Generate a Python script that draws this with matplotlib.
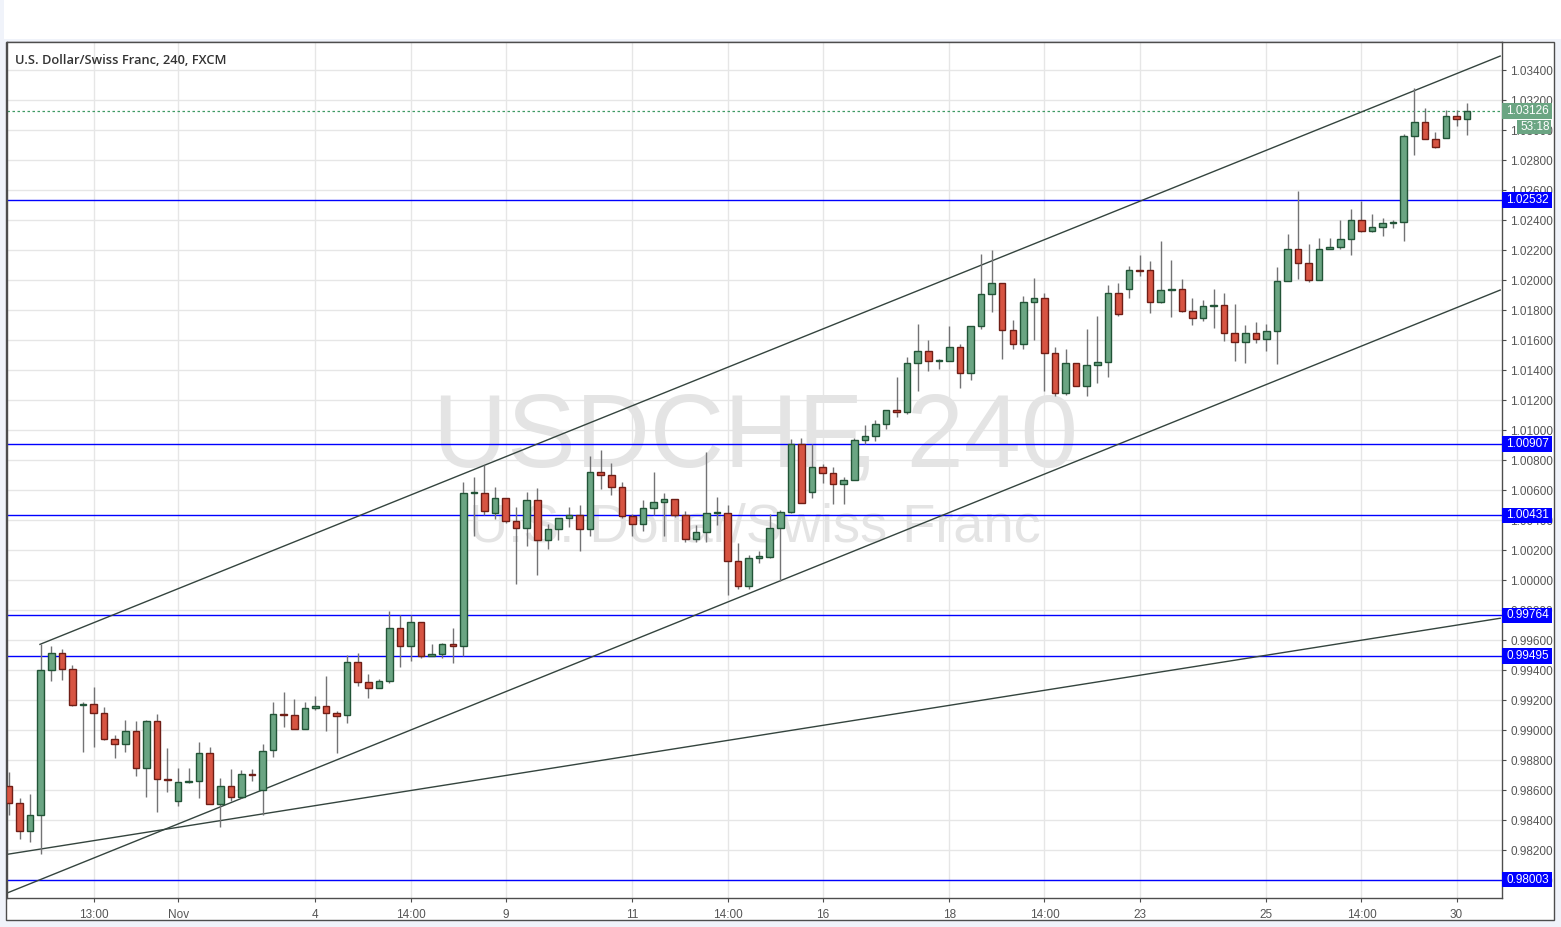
import numpy as np
import matplotlib
matplotlib.use("Agg")
import matplotlib.pyplot as plt
from matplotlib.patches import Rectangle
from matplotlib.ticker import MultipleLocator, FormatStrFormatter
import matplotlib.transforms as mtransforms

# USD/CHF 4h candles (open, high, low, close)
opens = [0.98627, 0.98511, 0.98324, 0.98431, 0.99398, 0.99511, 0.99404, 0.99167, 0.99173, 0.99111,
         0.98938, 0.98904, 0.98991, 0.98744, 0.99060, 0.98667, 0.98524, 0.98652, 0.98658, 0.98844,
         0.98507, 0.98624, 0.98551, 0.98704, 0.98600, 0.98864, 0.99100, 0.99098, 0.99004, 0.99144,
         0.99158, 0.99111, 0.99098, 0.99451, 0.99318, 0.99278, 0.99324, 0.99678, 0.99562, 0.99718,
         0.99491, 0.99504, 0.99571, 0.99558, 1.00578, 1.00578, 1.00444, 1.00544, 1.00391, 1.00344,
         1.00531, 1.00264, 1.00338, 1.00411, 1.00431, 1.00338, 1.00718, 1.00698, 1.00618, 1.00424,
         1.00371, 1.00478, 1.00518, 1.00538, 1.00431, 1.00271, 1.00318, 1.00446, 1.00444, 1.00124,
         0.99958, 1.00144, 1.00156, 1.00344, 1.00451, 1.00904, 1.00584, 1.00751, 1.00711, 1.00638,
         1.00664, 1.00931, 1.00958, 1.01038, 1.01131, 1.01118, 1.01444, 1.01524, 1.01458, 1.01458,
         1.01551, 1.01378, 1.01691, 1.01904, 1.01978, 1.01664, 1.01571, 1.01851, 1.01878, 1.01511,
         1.01244, 1.01444, 1.01291, 1.01431, 1.01451, 1.01911, 1.01938, 1.02064, 1.02064, 1.01851,
         1.01933, 1.01938, 1.01791, 1.01744, 1.01826, 1.01831, 1.01644, 1.01584, 1.01644, 1.01604,
         1.01658, 1.01991, 1.02204, 1.02111, 1.01998, 1.02204, 1.02218, 1.02271, 1.02398, 1.02324,
         1.02351, 1.02382, 1.02384, 1.02958, 1.03051, 1.02938, 1.02944, 1.03091, 1.03071]
highs = [0.98720, 0.98547, 0.98573, 0.99571, 0.99560, 0.99540, 0.99436, 0.99187, 0.99287, 0.99153,
         0.98964, 0.99067, 0.99060, 0.99067, 0.99107, 0.98880, 0.98749, 0.98749, 0.98920, 0.98889,
         0.98682, 0.98742, 0.98733, 0.98742, 0.98907, 0.99187, 0.99253, 0.99207, 0.99187, 0.99227,
         0.99360, 0.99124, 0.99498, 0.99516, 0.99373, 0.99338, 0.99791, 0.99764, 0.99764, 0.99718,
         0.99571, 0.99582, 0.99678, 1.00651, 1.00684, 1.00764, 1.00618, 1.00544, 1.00487, 1.00587,
         1.00611, 1.00371, 1.00411, 1.00487, 1.00500, 1.00827, 1.00867, 1.00780, 1.00651, 1.00438,
         1.00531, 1.00718, 1.00578, 1.00538, 1.00458, 1.00364, 1.00853, 1.00553, 1.00498, 1.00244,
         1.00164, 1.00196, 1.00438, 1.00467, 1.00938, 1.00944, 1.00904, 1.00771, 1.00751, 1.00684,
         1.00944, 1.01033, 1.01064, 1.01131, 1.01356, 1.01484, 1.01704, 1.01598, 1.01471, 1.01691,
         1.01571, 1.01691, 1.02171, 1.02200, 1.01978, 1.01733, 1.01891, 1.02011, 1.01911, 1.01551,
         1.01538, 1.01444, 1.01673, 1.01758, 1.01964, 1.01978, 1.02091, 1.02164, 1.02124, 1.02258,
         1.02131, 1.02004, 1.01878, 1.01864, 1.01938, 1.01911, 1.01838, 1.01698, 1.01718, 1.01704,
         1.02088, 1.02304, 1.02593, 1.02240, 1.02278, 1.02278, 1.02398, 1.02471, 1.02529, 1.02438,
         1.02411, 1.02398, 1.02971, 1.03278, 1.03144, 1.02984, 1.03131, 1.03131, 1.03180]
lows = [0.98431, 0.98276, 0.98251, 0.98171, 0.99329, 0.99336, 0.99160, 0.98856, 0.98884, 0.98933,
        0.98816, 0.98856, 0.98696, 0.98556, 0.98456, 0.98589, 0.98496, 0.98649, 0.98549, 0.98507,
        0.98356, 0.98529, 0.98544, 0.98662, 0.98433, 0.98818, 0.99022, 0.99004, 0.99004, 0.99131,
        0.98996, 0.98849, 0.99049, 0.99296, 0.99216, 0.99278, 0.99316, 0.99422, 0.99462, 0.99478,
        0.99491, 0.99482, 0.99444, 0.99491, 1.00296, 1.00433, 1.00404, 1.00378, 0.99973, 1.00229,
        1.00036, 1.00209, 1.00264, 1.00351, 1.00196, 1.00291, 1.00604, 1.00564, 1.00411, 1.00291,
        1.00324, 1.00431, 1.00296, 1.00418, 1.00251, 1.00256, 1.00256, 1.00364, 0.99898, 0.99938,
        0.99938, 1.00111, 1.00149, 0.99996, 1.00444, 1.00511, 1.00549, 1.00649, 1.00504, 1.00504,
        1.00664, 1.00904, 1.00924, 1.01004, 1.01084, 1.01104, 1.01258, 1.01391, 1.01404, 1.01458,
        1.01278, 1.01331, 1.01671, 1.01784, 1.01471, 1.01542, 1.01542, 1.01598, 1.01262, 1.01224,
        1.01231, 1.01291, 1.01224, 1.01311, 1.01351, 1.01762, 1.01878, 1.02024, 1.01778, 1.01844,
        1.01751, 1.01784, 1.01698, 1.01724, 1.01678, 1.01591, 1.01458, 1.01444, 1.01578, 1.01524,
        1.01438, 1.01991, 1.02004, 1.01984, 1.01998, 1.02204, 1.02204, 1.02164, 1.02318, 1.02318,
        1.02291, 1.02344, 1.02258, 1.02831, 1.02938, 1.02878, 1.02944, 1.03024, 1.02964]
closes = [0.98511, 0.98324, 0.98431, 0.99398, 0.99511, 0.99404, 0.99164, 0.99169, 0.99111, 0.98938,
          0.98904, 0.98991, 0.98744, 0.99060, 0.98671, 0.98664, 0.98651, 0.98654, 0.98844, 0.98507,
          0.98624, 0.98551, 0.98704, 0.98700, 0.98862, 0.99104, 0.99098, 0.99004, 0.99144, 0.99158,
          0.99111, 0.99096, 0.99451, 0.99318, 0.99278, 0.99324, 0.99678, 0.99562, 0.99718, 0.99491,
          0.99504, 0.99571, 0.99558, 1.00578, 1.00580, 1.00458, 1.00544, 1.00391, 1.00344, 1.00531,
          1.00264, 1.00338, 1.00411, 1.00431, 1.00338, 1.00718, 1.00698, 1.00618, 1.00424, 1.00371,
          1.00478, 1.00518, 1.00538, 1.00431, 1.00271, 1.00318, 1.00444, 1.00448, 1.00124, 0.99958,
          1.00144, 1.00158, 1.00344, 1.00451, 1.00904, 1.00511, 1.00751, 1.00711, 1.00638, 1.00664,
          1.00931, 1.00958, 1.01038, 1.01131, 1.01118, 1.01444, 1.01524, 1.01458, 1.01458, 1.01551,
          1.01378, 1.01691, 1.01904, 1.01978, 1.01664, 1.01571, 1.01851, 1.01878, 1.01511, 1.01244,
          1.01444, 1.01291, 1.01431, 1.01451, 1.01911, 1.01771, 1.02064, 1.02062, 1.01851, 1.01931,
          1.01936, 1.01791, 1.01744, 1.01824, 1.01828, 1.01644, 1.01584, 1.01644, 1.01604, 1.01658,
          1.01991, 1.02204, 1.02111, 1.01998, 1.02204, 1.02218, 1.02271, 1.02398, 1.02324, 1.02351,
          1.02378, 1.02384, 1.02958, 1.03051, 1.02938, 1.02884, 1.03091, 1.03071, 1.03126]

# time axis labels (bar index, label)
tick_bars = [8, 16, 29, 38, 47, 59, 68, 77, 89, 98, 107, 119, 128, 137]
tick_labels = ["13:00", "Nov", "4", "14:00", "9", "11", "14:00", "16", "18", "14:00", "23", "25", "14:00", "30"]

# horizontal support / resistance levels
levels = [1.02532, 1.00907, 1.00431, 0.99764, 0.99495, 0.98003]
last_price = 1.03126
countdown = "53:18"

# trend lines: (bar0, price0, bar1, price1)
trend_lines = [
    (2.93, 0.99571, 141.13, 1.03493),
    (-0.19, 0.97913, 141.13, 1.01933),
    (-0.19, 0.98171, 141.13, 0.99745),
]

W, H = 1561, 927
def rect(l, t, r, b):
    return [l / W, 1 - b / H, (r - l) / W, (b - t) / H]

fig = plt.figure(figsize=(W / 100, H / 100), dpi=100, facecolor="#f0f3fa")
# white header band and white chart frame
fig.add_artist(Rectangle((4 / W, 1 - 39 / H), 1, 39 / H, transform=fig.transFigure,
                         facecolor="white", edgecolor="none", zorder=0))
fig.add_artist(Rectangle((6 / W, 1 - 920 / H), (1554 - 6) / W, (920 - 42) / H,
                         transform=fig.transFigure, facecolor="white",
                         edgecolor="#4d4d4d", lw=1, zorder=0))

ax = fig.add_axes(rect(7, 42, 1502, 898))
ax.set_facecolor("white")

x = np.arange(len(opens))
o = np.array(opens); h = np.array(highs); l = np.array(lows); c = np.array(closes)
up = c >= o

ax.vlines(x, l, h, color="#737375", lw=1, zorder=3)
bottom = np.minimum(o, c)
height = np.maximum(np.abs(c - o), 0.00008)
face = np.where(up, "#6ba583", "#d75442")
edge = np.where(up, "#225437", "#6f1e16")
ax.bar(x, height, bottom=bottom, width=0.62, color=face, edgecolor=edge, lw=1, zorder=4)

for x0, y0, x1, y1 in trend_lines:
    ax.plot([x0, x1], [y0, y1], color="#34443e", lw=1, zorder=2.5)

for lv in levels:
    ax.axhline(lv, color="#0000ff", lw=1, zorder=2.4)
ax.axhline(last_price, color="#3f9a63", lw=0.9, ls=(0, (2, 2)), zorder=2.4)

ax.set_xlim(-0.19, 141.3)
ax.set_ylim(0.97880, 1.035867)

ax.set_xticks(tick_bars)
ax.set_xticklabels(tick_labels, fontfamily="Liberation Sans")
ax.yaxis.tick_right()
ax.yaxis.set_major_locator(MultipleLocator(0.002))
ax.yaxis.set_major_formatter(FormatStrFormatter("%.5f"))
for lab in ax.get_yticklabels():
    lab.set_fontfamily("Liberation Sans")
ax.tick_params(axis="both", colors="#4d4d4d", labelcolor="#555555", labelsize=8.5, length=3)
ax.tick_params(axis="y", pad=3)
ax.tick_params(axis="x", pad=5)
ax.grid(True, color="#e6e6e6", lw=1)
ax.set_axisbelow(True)
for s in ax.spines.values():
    s.set_color("#4d4d4d")
    s.set_linewidth(1)

# right axis boxes
trans = mtransforms.blended_transform_factory(ax.transAxes, ax.transData)
bw = 50 / 1495
for lv in levels:
    ax.add_patch(Rectangle((1.0, lv - 0.00052), bw, 0.00104, transform=trans,
                           facecolor="#0000ff", edgecolor="none", clip_on=False, zorder=5))
    ax.text(1.0 + 4 / 1495, lv, "%.5f" % lv, transform=trans, color="white", fontsize=8.5,
            fontfamily="Liberation Sans", va="center", ha="left", clip_on=False, zorder=6)
ax.add_patch(Rectangle((1.0, last_price - 0.00052), bw, 0.00104, transform=trans,
                       facecolor="#6ba583", edgecolor="none", clip_on=False, zorder=5))
ax.text(1.0 + 4 / 1495, last_price, "%.5f" % last_price, transform=trans, color="white",
        fontsize=8.5, fontfamily="Liberation Sans", va="center", ha="left", clip_on=False, zorder=6)
ax.add_patch(Rectangle((1.0 + 15 / 1495, 1.03018 - 0.00047), 34 / 1495, 0.00094, transform=trans,
                       facecolor="#6ba583", edgecolor="none", clip_on=False, zorder=5))
ax.text(1.0 + 18 / 1495, 1.03018, countdown, transform=trans, color="white",
        fontsize=8.5, fontfamily="Liberation Sans", va="center", ha="left", clip_on=False, zorder=6)

# watermark
ax.text(0.5003, 0.535, "USDCHF, 240", transform=ax.transAxes, ha="center", va="center",
        fontsize=74, color="#e4e4e4", fontfamily="Liberation Sans", zorder=1)
ax.text(0.5003, 0.433, "U.S. Dollar/Swiss Franc", transform=ax.transAxes, ha="center", va="center",
        fontsize=39, color="#e4e4e4", fontfamily="Liberation Sans", zorder=1)

fig.text(15 / W, 1 - 60 / H, "U.S. Dollar/Swiss Franc, 240, FXCM", ha="left", va="center",
         fontsize=9.3, fontweight="semibold", color="#333333", fontfamily="Open Sans")

fig.savefig("out.png", dpi=100, facecolor=fig.get_facecolor())
